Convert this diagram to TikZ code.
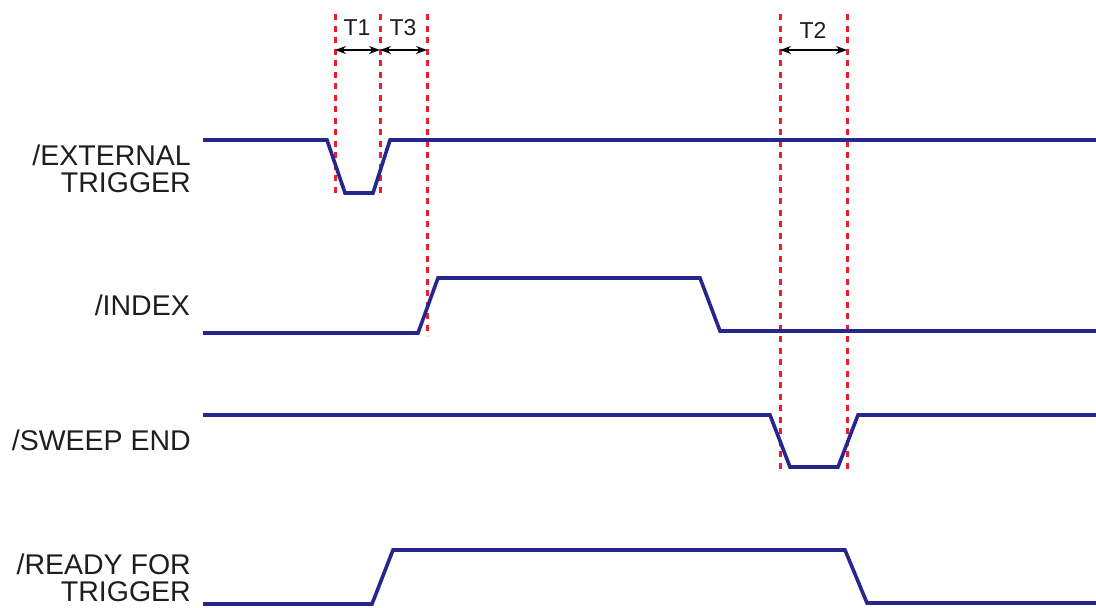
\documentclass[tikz,border=0pt]{standalone}
\usepackage{fontspec}
\setmainfont{Liberation Sans}
\usetikzlibrary{arrows.meta}
\definecolor{sig}{RGB}{38,38,140}
\definecolor{mark}{RGB}{235,30,45}
\definecolor{ink}{RGB}{30,30,30}
\begin{document}
\begin{tikzpicture}[x=1pt,y=-1pt,
  wave/.style={draw=sig,line width=3.6pt,line join=miter},
  guide/.style={draw=mark,line width=3pt,dash pattern=on 6pt off 5.5pt},
  span/.style={draw=black,line width=1.1pt,{Stealth[length=11pt,width=8pt]}-{Stealth[length=11pt,width=8pt]}},
  siglabel/.style={anchor=east,inner sep=0pt,align=right,text=ink,font=\fontsize{28.5}{27}\selectfont},
  tlabel/.style={inner sep=0pt,text=ink,font=\fontsize{23}{23}\selectfont}]
\useasboundingbox (0,0) rectangle (1096,608);
% labels
\node[siglabel] (lext) at (191,169) {/EXTERNAL\\TRIGGER};
\node[siglabel] (lidx) at (190,305) {/INDEX};
\node[siglabel] (lswp) at (191,440) {/SWEEP END};
\node[siglabel] (lrdy) at (191,578) {/READY FOR\\TRIGGER};
% guide lines
\coordinate (g1t) at (335,14); \coordinate (g1b) at (335,197);
\coordinate (g2t) at (380,14); \coordinate (g2b) at (380,197);
\coordinate (g3t) at (427,14); \coordinate (g3b) at (427,336);
\coordinate (g4t) at (780,14); \coordinate (g4b) at (780,473);
\coordinate (g5t) at (847,14); \coordinate (g5b) at (847,473);
\draw[guide] (g1t) -- (g1b);
\draw[guide] (g2t) -- (g2b);
\draw[guide] (g3t) -- (g3b);
\draw[guide] (g4t) -- (g4b);
\draw[guide] (g5t) -- (g5b);
% spans
\coordinate (a1) at (335,50); \coordinate (a2) at (380,50);
\coordinate (a3) at (427,50); \coordinate (a4) at (780,50);
\coordinate (a5) at (847,50);
\draw[span] (a1) -- (a2);
\draw[span] (a2) -- (a3);
\draw[span] (a4) -- (a5);
\node[tlabel] (t1) at (357,28) {T1};
\node[tlabel] (t3) at (403,28) {T3};
\node[tlabel] (t2) at (813,30) {T2};
% waveforms
\draw[wave] (203,140) -- (327,140) -- (345,193) -- (373,193) -- (390,140) -- (1096,140);
\draw[wave] (203,333) -- (418,333) -- (438,278) -- (700,278) -- (720,331) -- (1096,331);
\draw[wave] (203,415) -- (770,415) -- (790,467) -- (838,467) -- (858,415) -- (1096,415);
\draw[wave] (203,604) -- (372,604) -- (393,550) -- (845,550) -- (867,603) -- (1096,603);
\end{tikzpicture}
\end{document}
